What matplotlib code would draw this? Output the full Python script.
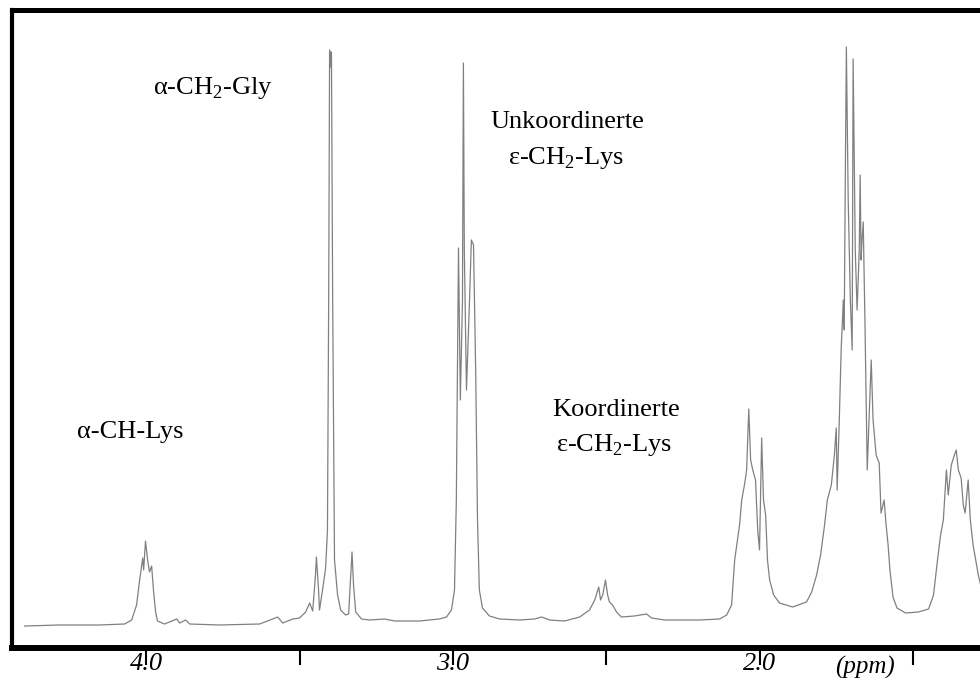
import matplotlib
matplotlib.use('Agg')
import matplotlib.pyplot as plt
import matplotlib.transforms as mtransforms

# colours / fonts
line_color = '#808080'
frame_color = '#000000'
plt.rcParams['font.family'] = ['Liberation Serif', 'DejaVu Serif']
plt.rcParams['mathtext.fontset'] = 'custom'
plt.rcParams['mathtext.rm'] = 'Liberation Serif'

# 1H NMR trace (chemical shift in ppm, intensity in arbitrary units)
shift_ppm = [
    4.396, 4.282, 4.152, 4.070, 4.047, 4.031, 4.021, 4.011, 4.008, 4.002,
    3.995, 3.989, 3.982, 3.976, 3.969, 3.963, 3.940, 3.900, 3.891, 3.871,
    3.858, 3.760, 3.630, 3.571, 3.555, 3.522, 3.500, 3.480, 3.467, 3.457,
    3.448, 3.445, 3.438, 3.435, 3.425, 3.415, 3.409, 3.405, 3.402, 3.399,
    3.396, 3.392, 3.386, 3.376, 3.366, 3.350, 3.340, 3.334, 3.329, 3.324,
    3.317, 3.298, 3.272, 3.223, 3.190, 3.109, 3.044, 3.021, 3.005, 2.995,
    2.989, 2.982, 2.976, 2.969, 2.966, 2.963, 2.956, 2.946, 2.940, 2.933,
    2.926, 2.920, 2.914, 2.904, 2.881, 2.848, 2.783, 2.734, 2.711, 2.685,
    2.636, 2.587, 2.555, 2.538, 2.525, 2.519, 2.512, 2.503, 2.496, 2.490,
    2.480, 2.467, 2.451, 2.409, 2.369, 2.353, 2.310, 2.196, 2.131, 2.108,
    2.092, 2.082, 2.075, 2.066, 2.059, 2.049, 2.043, 2.036, 2.030, 2.023,
    2.014, 2.007, 2.001, 1.994, 1.988, 1.981, 1.975, 1.968, 1.955, 1.936,
    1.893, 1.848, 1.831, 1.815, 1.802, 1.789, 1.780, 1.767, 1.757, 1.751,
    1.748, 1.741, 1.735, 1.728, 1.725, 1.722, 1.718, 1.712, 1.705, 1.699,
    1.696, 1.689, 1.683, 1.676, 1.673, 1.670, 1.667, 1.663, 1.657, 1.650,
    1.644, 1.637, 1.631, 1.621, 1.611, 1.605, 1.595, 1.589, 1.582, 1.576,
    1.566, 1.553, 1.525, 1.483, 1.450, 1.434, 1.421, 1.411, 1.402, 1.392,
    1.386, 1.376, 1.366, 1.360, 1.353, 1.344, 1.337, 1.331, 1.321, 1.314,
    1.305, 1.288, 1.275,
]
intensity = [
    -4, -3, -3, -2, 2, 17, 42, 64, 52, 81,
    62, 50, 56, 32, 10, 1, -2, 3, -1, 2,
    -2, -3, -2, 5, -1, 3, 4, 10, 19, 11,
    47, 65, 32, 12, 32, 54, 92, 322, 572, 555,
    570, 322, 62, 27, 12, 7, 8, 42, 70, 37,
    10, 3, 2, 3, 1, 1, 3, 5, 12, 32,
    122, 374, 222, 322, 559, 372, 232, 322, 382, 377,
    252, 102, 32, 14, 6, 3, 2, 3, 5, 2,
    1, 5, 12, 22, 35, 22, 27, 42, 27, 20,
    17, 10, 5, 6, 8, 4, 2, 2, 3, 7,
    17, 62, 77, 97, 122, 139, 152, 213, 162, 152,
    142, 92, 72, 184, 122, 107, 62, 42, 27, 19,
    15, 20, 30, 47, 67, 97, 122, 137, 167, 194,
    132, 202, 272, 322, 292, 422, 575, 422, 322, 272,
    563, 372, 312, 372, 447, 362, 382, 400, 292, 152,
    202, 262, 202, 167, 159, 109, 122, 99, 77, 52,
    25, 14, 9, 10, 13, 27, 62, 87, 102, 152,
    127, 157, 167, 172, 152, 144, 117, 109, 142, 102,
    77, 47, 30,
]

# axis ticks
tick_ppm = [4.0, 3.5, 3.0, 2.5, 2.0, 1.5]
tick_labels = ['4.0', '', '3.0', '', '2.0', '']

# peak assignments: (text, ppm, intensity)
peak_labels = [
    ('α-CH$_2$-Gly', 3.783, 534),
    ('α-CH-Lys', 4.051, 190),
    ('Unkoordinerte', 2.626, 500),
    ('ε-CH$_2$-Lys', 2.631, 464),
    ('Koordinerte', 2.470, 212),
    ('ε-CH$_2$-Lys', 2.476, 177),
]

fig = plt.figure(figsize=(9.8, 6.78), dpi=100)
ax = fig.add_axes([12 / 980, 30 / 678, 1 - 12 / 980, 638 / 678])

ax.plot(shift_ppm, intensity, color=line_color, linewidth=0.9)

ax.set_xlim(4.437, 1.2825)
ax.set_ylim(-26, 612)

# frame: open on the right like the scan
ax.spines['right'].set_visible(False)
ax.spines['top'].set_linewidth(3.6)
ax.spines['left'].set_linewidth(3.0)
ax.spines['bottom'].set_linewidth(4.3)
for s in ['top', 'left', 'bottom']:
    ax.spines[s].set_color(frame_color)

ax.set_yticks([])
ax.set_xticks(tick_ppm)
ax.set_xticklabels(tick_labels, fontstyle='italic', fontsize=19)
ax.tick_params(axis='x', direction='out', length=12, width=1.5, pad=-8.6,
               color=frame_color)

trans = mtransforms.blended_transform_factory(ax.transData, ax.transAxes)
ax.text(1.658, -0.0125, '(ppm)', transform=trans, ha='center', va='top',
        fontstyle='italic', fontsize=18, clip_on=False)

for txt, px, py in peak_labels:
    ax.text(px, py, txt, ha='center', va='center', fontsize=19)

fig.savefig('out.png', dpi=100, facecolor='white')
